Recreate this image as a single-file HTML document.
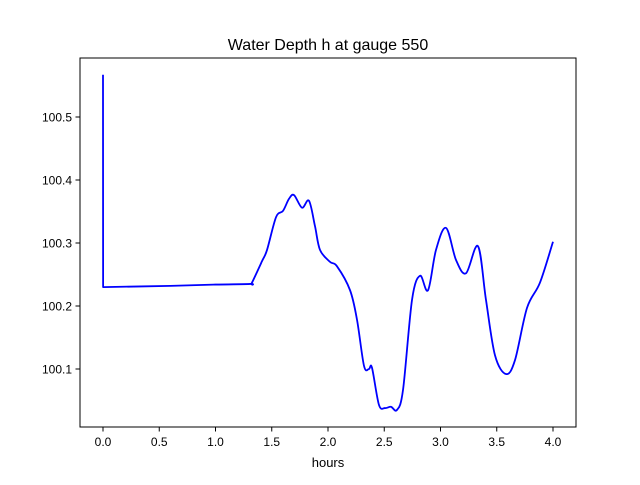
<!DOCTYPE html>
<html><head><meta charset="utf-8"><style>body{margin:0;background:#fff}svg{font-family:"Liberation Sans","DejaVu Sans",sans-serif}</style></head>
<body>
<svg id="chart" width="640" height="480" viewBox="0 0 640 480">
<rect x="0" y="0" width="640" height="480" fill="#fff"/>
<text x="328" y="50" text-anchor="middle" font-size="16">Water Depth h at gauge 550</text>
<text x="328" y="467" text-anchor="middle" font-size="13">hours</text>
<g id="ticks"></g>
<path id="line" fill="none" stroke="#0000ff" stroke-width="1.8" stroke-linejoin="round"/>
<rect x="80" y="58" width="496" height="369" fill="none" stroke="#000" stroke-width="1"/>
</svg>
<script>
const times=[0,0.001,0.6,1.0,1.31,1.324,1.413,1.458,1.538,1.6,1.653,1.698,1.769,1.831,1.884,1.929,2.018,2.08,2.196,2.258,2.32,2.364,2.391,2.453,2.507,2.56,2.613,2.667,2.747,2.818,2.889,2.96,3.049,3.138,3.227,3.333,3.404,3.484,3.582,3.662,3.769,3.884,4.0];
const depths=[100.567,100.230,100.232,100.234,100.235,100.237,100.271,100.289,100.341,100.351,100.370,100.376,100.356,100.367,100.327,100.289,100.270,100.263,100.225,100.178,100.105,100.100,100.102,100.043,100.038,100.040,100.035,100.067,100.21,100.248,100.225,100.289,100.324,100.273,100.252,100.295,100.21,100.122,100.092,100.114,100.197,100.237,100.302];
const xTicks=[0,0.5,1,1.5,2,2.5,3,3.5,4];
const xTickLabels=["0.0","0.5","1.0","1.5","2.0","2.5","3.0","3.5","4.0"];
const yTicks=[100.1,100.2,100.3,100.4,100.5];
const yTickLabels=["100.1","100.2","100.3","100.4","100.5"];
const X=t=>103+(t)*112.5;
const Y=h=>369-(h-100.1)*630;
const ns="http://www.w3.org/2000/svg";
const g=document.getElementById('ticks');
function mk(tag,attrs,txt){const e=document.createElementNS(ns,tag);for(const k in attrs)e.setAttribute(k,attrs[k]);if(txt!==undefined)e.textContent=txt;g.appendChild(e);return e;}
xTicks.forEach((t,i)=>{
 const l=mk('line',{x1:X(t),x2:X(t),y1:427,y2:431.5,stroke:'#000'});
 
 
 const s=mk('text',{x:X(t),y:446,'text-anchor':'middle','font-size':12},xTickLabels[i]);
 
 
});
yTicks.forEach((h,i)=>{
 const l=mk('line',{x1:75.5,x2:80,y1:Y(h),y2:Y(h),stroke:'#000'});
 
 
 const s=mk('text',{x:72,y:Y(h)+4.5,'text-anchor':'end','font-size':12},yTickLabels[i]);
 
 
});
const pts=times.map((t,i)=>[X(t),Y(depths[i])]);
let d='M'+pts[0][0]+','+pts[0][1]+' L'+pts[1][0]+','+pts[1][1];
for(let i=1;i<pts.length-1;i++){
 const p0=pts[Math.max(1,i-1)],p1=pts[i],p2=pts[i+1],p3=pts[Math.min(pts.length-1,i+2)];
 const c1=[p1[0]+(p2[0]-p0[0])/6,p1[1]+(p2[1]-p0[1])/6];
 const c2=[p2[0]-(p3[0]-p1[0])/6,p2[1]-(p3[1]-p1[1])/6];
 d+=' C'+c1+' '+c2+' '+p2;
}
document.getElementById('line').setAttribute('d',d);
</script>
</body></html>
